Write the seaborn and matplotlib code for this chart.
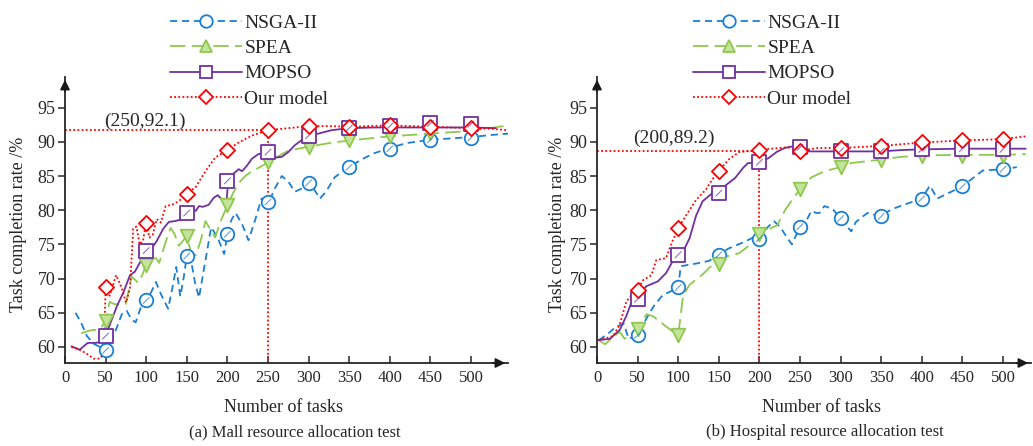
# -*- coding: utf-8 -*-
"""
Task completion rate vs number of tasks, two tests side by side
(mall / hospital resource allocation).
"""

import pandas as pd
import seaborn as sns
import matplotlib.pyplot as plt
from matplotlib.lines import Line2D
from matplotlib.path import Path

# === data ===
tasks = [50, 100, 150, 200, 250, 300, 350, 400, 450, 500]
series = ["NSGA-II", "SPEA", "MOPSO", "Our model"]

# (a) mall
mall_nsga_x = [13, 20, 27, 35, 43, 50, 57, 63, 70, 76, 82, 87, 94, 100, 106, 112, 119, 127, 132, 137,
               142, 146, 150, 155, 160, 165, 172, 180, 188, 196, 200, 205, 210, 218, 226, 234, 242, 251,
               259, 267, 275, 283, 292, 300, 307, 314, 322, 332, 341, 350, 365, 380, 400, 420, 450, 475,
               500, 525, 546]
mall_nsga_y = [65.0, 63.5, 61.6, 60.5, 60.0, 59.5, 61.0, 62.6, 64.8, 65.3, 64.0, 63.6, 66.0, 66.8, 68.0,
               69.5, 67.5, 65.6, 68.5, 71.7, 67.4, 70.0, 73.3, 72.8, 69.5, 67.2, 72.0, 77.5, 76.0, 73.6,
               76.5, 78.6, 79.6, 78.0, 75.6, 78.5, 81.7, 81.2, 83.3, 85.0, 84.2, 82.7, 83.2, 84.0, 83.0,
               81.7, 82.8, 84.8, 85.6, 86.3, 87.4, 88.3, 89.1, 89.8, 90.3, 90.5, 90.7, 91.0, 91.2]
mall_nsga_mk = [59.5, 66.8, 73.3, 76.5, 81.2, 84.0, 86.3, 89.0, 90.3, 90.6]

mall_spea_x = [20, 30, 43, 50, 55, 60, 67, 75, 82, 90, 95, 100, 106, 112, 116, 123, 130, 135, 140, 150,
               155, 161, 167, 173, 180, 185, 191, 200, 207, 214, 222, 230, 240, 250, 259, 267, 275, 300,
               325, 350, 375, 400, 450, 500, 546]
mall_spea_y = [62.0, 62.4, 62.6, 63.8, 66.6, 66.3, 66.2, 66.3, 70.3, 69.4, 70.5, 72.0, 72.8, 73.0, 72.3,
               75.0, 77.4, 76.5, 74.8, 76.2, 73.9, 73.4, 75.5, 78.4, 77.0, 76.0, 78.2, 80.7, 82.5, 84.0,
               85.0, 85.7, 86.3, 87.0, 87.6, 88.2, 88.7, 89.3, 89.8, 90.2, 90.5, 90.8, 91.2, 91.6, 92.4]
mall_spea_mk = [63.8, 72.0, 76.2, 80.7, 87.0, 89.3, 90.3, 90.9, 91.3, 91.9]

mall_mopso_x = [8, 18, 28, 38, 46, 50, 56, 64, 72, 80, 86, 92, 97, 100, 106, 113, 121, 128, 135, 142,
                150, 156, 161, 165, 170, 177, 183, 188, 194, 199, 201, 206, 214, 218, 224, 230, 238, 246,
                252, 259, 267, 275, 283, 292, 300, 312, 328, 350, 380, 420, 460, 500, 530]
mall_mopso_y = [60.1, 59.6, 60.6, 60.6, 60.8, 61.6, 63.5, 66.0, 68.0, 70.5, 71.0, 72.3, 73.3, 74.1, 74.3,
                75.5, 77.3, 78.3, 78.4, 78.6, 79.6, 80.2, 79.9, 80.6, 80.5, 80.8, 81.8, 82.2, 81.5, 81.4,
                84.3, 85.2, 86.0, 85.7, 86.5, 87.5, 88.2, 88.4, 88.3, 87.7, 87.8, 88.5, 89.5, 90.3, 90.9,
                91.2, 91.7, 92.0, 92.1, 92.1, 92.1, 92.1, 92.0]
mall_mopso_mk = [61.6, 74.1, 79.6, 84.3, 88.5, 90.9, 92.0, 92.3, 92.7, 92.6]

mall_ours_x = [8, 18, 27, 35, 43, 48, 50, 55, 63, 70, 75, 80, 84, 88, 92, 96, 100, 104, 108, 113, 118,
               124, 132, 140, 150, 161, 173, 185, 200, 214, 230, 250, 275, 300, 325, 350, 375, 400, 425,
               450, 475, 500, 525, 546]
mall_ours_y = [60.0, 59.6, 59.0, 58.3, 58.3, 59.0, 68.7, 67.5, 70.5, 68.6, 66.5, 68.5, 77.3, 77.6, 75.0,
               75.5, 78.2, 76.0, 76.4, 78.7, 78.2, 80.6, 80.8, 81.3, 82.4, 83.4, 85.7, 87.7, 88.8, 89.9,
               90.9, 91.7, 92.0, 92.3, 92.3, 92.2, 92.3, 92.4, 92.3, 92.2, 92.1, 92.0, 91.9, 91.7]
mall_ours_mk = [68.7, 78.2, 82.4, 88.8, 91.7, 92.3, 92.2, 92.4, 92.2, 92.0]

# (b) hospital
hosp_nsga_x = [2, 12, 24, 33, 39, 50, 61, 70, 81, 92, 100, 103, 112, 122, 138, 150, 162, 182, 194, 200,
               210, 218, 226, 234, 240, 250, 258, 264, 270, 274, 280, 290, 300, 313, 319, 333, 350, 362,
               378, 400, 410, 419, 431, 450, 475, 500, 517]
hosp_nsga_y = [61.0, 61.8, 63.0, 63.4, 61.2, 61.7, 64.2, 66.0, 67.6, 68.2, 68.6, 71.8, 72.0, 72.2, 72.6,
               73.5, 74.4, 75.4, 76.1, 75.9, 77.5, 78.4, 77.5, 76.0, 75.0, 77.6, 78.5, 79.9, 79.6, 79.6,
               80.6, 80.2, 78.8, 76.9, 78.3, 79.6, 79.1, 80.1, 80.8, 81.7, 83.6, 81.7, 82.4, 83.5, 85.8,
               86.0, 86.3]
hosp_nsga_mk = [61.7, 68.7, 73.5, 75.85, 77.6, 78.8, 79.1, 81.7, 83.5, 86.0]

hosp_spea_x = [2, 10, 20, 28, 34, 50, 61, 69, 85, 100, 106, 114, 130, 142, 150, 158, 175, 187, 200, 211,
               222, 232, 250, 264, 280, 300, 313, 350, 374, 400, 450, 500, 528]
hosp_spea_y = [61.0, 60.4, 61.5, 62.2, 61.2, 62.6, 64.8, 64.5, 63.0, 61.7, 67.5, 69.1, 70.6, 72.0, 72.2,
               73.2, 73.7, 74.8, 76.5, 77.2, 77.8, 80.1, 83.1, 84.8, 85.7, 86.3, 86.9, 87.4, 87.8, 88.0,
               88.1, 88.1, 88.2]
hosp_spea_mk = [62.6, 61.7, 72.2, 76.5, 83.1, 86.3, 87.4, 87.9, 88.0, 88.0]

hosp_mopso_x = [2, 16, 28, 36, 44, 50, 61, 75, 85, 93, 100, 107, 114, 122, 130, 142, 150, 158, 170, 180,
                186, 194, 200, 211, 221, 231, 239, 250, 263, 300, 350, 375, 400, 450, 500, 528]
hosp_mopso_y = [61.0, 61.2, 62.5, 64.5, 67.0, 67.5, 68.9, 69.6, 70.8, 72.5, 73.4, 74.2, 75.9, 79.2, 81.3,
                82.5, 83.0, 83.6, 84.7, 86.2, 86.9, 86.9, 87.0, 87.6, 88.5, 89.1, 89.3, 89.2, 88.6, 88.6,
                88.6, 88.8, 88.9, 89.0, 89.0, 89.0]
hosp_mopso_mk = [67.0, 73.5, 82.5, 87.0, 89.2, 88.7, 88.6, 88.9, 89.0, 88.9]

hosp_ours_x = [2, 20, 28, 36, 44, 50, 57, 67, 73, 85, 93, 100, 110, 122, 134, 142, 150, 163, 175, 200,
               215, 235, 250, 272, 300, 350, 400, 450, 500, 528]
hosp_ours_y = [61.0, 61.6, 63.3, 66.6, 67.8, 68.4, 69.8, 70.5, 72.7, 73.0, 75.5, 77.4, 79.3, 81.5, 83.0,
               84.5, 85.8, 87.5, 88.5, 88.8, 89.0, 89.2, 88.7, 89.1, 89.1, 89.4, 89.9, 90.2, 90.4, 90.8]
hosp_ours_mk = [68.4, 77.4, 85.8, 88.8, 88.7, 89.1, 89.4, 89.95, 90.2, 90.4]

# highlighted points
mall_pt = (250, 91.75, "(250,92.1)")
hosp_pt = (200, 88.6, "(200,89.2)")

# === styles ===
colors = {"NSGA-II": "#1b7fd3", "SPEA": "#8fc84e", "MOPSO": "#7030a0", "Our model": "#ff0000"}
dashes = {"NSGA-II": (0, (4, 2.6)), "SPEA": (0, (8.5, 3.5)), "MOPSO": "-", "Our model": (0, (1.0, 1.3))}
mk_shape = {"NSGA-II": "o", "SPEA": "v", "MOPSO": "s", "Our model": "D"}
mk_face = {"NSGA-II": "white", "SPEA": "#c3e39b", "MOPSO": "white", "Our model": "white"}
mk_size = {"NSGA-II": 95, "SPEA": 95, "MOPSO": 105, "Our model": 60}
diag = Path([(-1, -1), (1, 1)], [Path.MOVETO, Path.LINETO])

sns.set_theme(style="ticks")
plt.rcParams["font.family"] = ["Liberation Serif", "DejaVu Serif"]

fig = plt.figure(figsize=(10.33, 4.46), dpi=100)
ax_a = fig.add_axes([65 / 1033, 83 / 446, 443 / 1033, 286 / 446])
ax_b = fig.add_axes([597 / 1033, 83 / 446, 434 / 1033, 286 / 446])


def draw_panel(ax, data, xmax, pt, txt_xy):
    for name in series:
        lx, ly, mk = data[name]
        sns.lineplot(x=lx, y=ly, ax=ax, color=colors[name], linestyle=dashes[name],
                     linewidth=1.3, estimator=None, sort=False, zorder=3)
    # reference lines for highlighted point
    px, py, label = pt
    ax.hlines(py, 0, px, colors="#ff0000", linestyles=(0, (1.0, 1.3)), linewidth=1.3, zorder=2)
    ax.vlines(px, 57.66, py, colors="#ff0000", linestyles=(0, (1.0, 1.3)), linewidth=1.3, zorder=2)
    ax.text(txt_xy[0], txt_xy[1], label, fontsize=14, va="center", ha="left")
    for name in series:
        lx, ly, mk = data[name]
        sns.scatterplot(x=tasks, y=mk, ax=ax, marker=mk_shape[name], s=mk_size[name],
                        facecolor=mk_face[name], edgecolor=colors[name], linewidth=1.3, zorder=5)
        if name in ("NSGA-II", "MOPSO"):
            sns.scatterplot(x=tasks, y=mk, ax=ax, marker=diag, s=22, facecolor="none",
                            edgecolor=colors[name], linewidth=0.8, alpha=0.7, zorder=6)

    ax.set_xlim(0, xmax)
    ax.set_ylim(57.66, 99.48)
    ax.set_xticks(range(0, 501, 50))
    ax.set_yticks(range(60, 96, 5))
    ax.set_xlabel("")
    ax.set_ylabel("")
    sns.despine(ax=ax)
    for sp in ("left", "bottom"):
        ax.spines[sp].set_linewidth(1.3)
    ax.tick_params(axis="x", direction="in", length=5, width=1.1, labelsize=12, pad=5)
    ax.tick_params(axis="y", direction="out", length=5, width=1.1, labelsize=13, pad=2)
    ax.annotate("", xy=(1.0, 0), xytext=(0.96, 0), xycoords="axes fraction",
                arrowprops=dict(arrowstyle="-|>", color="k", lw=1.3, mutation_scale=14))
    ax.annotate("", xy=(0, 1.0), xytext=(0, 0.94), xycoords="axes fraction",
                arrowprops=dict(arrowstyle="-|>", color="k", lw=1.3, mutation_scale=14))


mall = {"NSGA-II": (mall_nsga_x, mall_nsga_y, mall_nsga_mk),
        "SPEA": (mall_spea_x, mall_spea_y, mall_spea_mk),
        "MOPSO": (mall_mopso_x, mall_mopso_y, mall_mopso_mk),
        "Our model": (mall_ours_x, mall_ours_y, mall_ours_mk)}
hosp = {"NSGA-II": (hosp_nsga_x, hosp_nsga_y, hosp_nsga_mk),
        "SPEA": (hosp_spea_x, hosp_spea_y, hosp_spea_mk),
        "MOPSO": (hosp_mopso_x, hosp_mopso_y, hosp_mopso_mk),
        "Our model": (hosp_ours_x, hosp_ours_y, hosp_ours_mk)}

draw_panel(ax_a, mall, 545.6, mall_pt, (48, 92.95))
draw_panel(ax_b, hosp, 534.5, hosp_pt, (45, 90.5))

# legends
legend_mk = {"NSGA-II": "o", "SPEA": "^", "MOPSO": "s", "Our model": "D"}
handles = [Line2D([], [], color=colors[n], linestyle=dashes[n], linewidth=1.3,
                  marker=legend_mk[n], markersize=9 if n != "Our model" else 7.5,
                  markerfacecolor=mk_face[n], markeredgecolor=colors[n], markeredgewidth=1.3,
                  label=n) for n in series]
for ax, x0 in ((ax_a, 170), (ax_b, 693)):
    ax.legend(handles=handles, loc="upper left", bbox_to_anchor=(x0 / 1033, 1 - 14 / 446),
              bbox_transform=fig.transFigure, frameon=False, fontsize=14, handlelength=3.7,
              handletextpad=0.12, labelspacing=0.4, borderpad=0, borderaxespad=0)

# axis titles and captions
for xc, yl, xl, cap in ((19, 283, 295, "(a) Mall resource allocation test"),
                        (557, 821, 825, "(b) Hospital resource allocation test")):
    fig.text(xc / 1033, 1 - 224 / 446, "Task completion rate /%", rotation=90,
             ha="center", va="center", fontsize=13)
    fig.text(yl / 1033, 1 - 407 / 446, "Number of tasks", ha="center", va="center", fontsize=13)
    fig.text(xl / 1033, 1 - 432 / 446, cap, ha="center", va="center", fontsize=12)

fig.savefig("out.png", dpi=100)
